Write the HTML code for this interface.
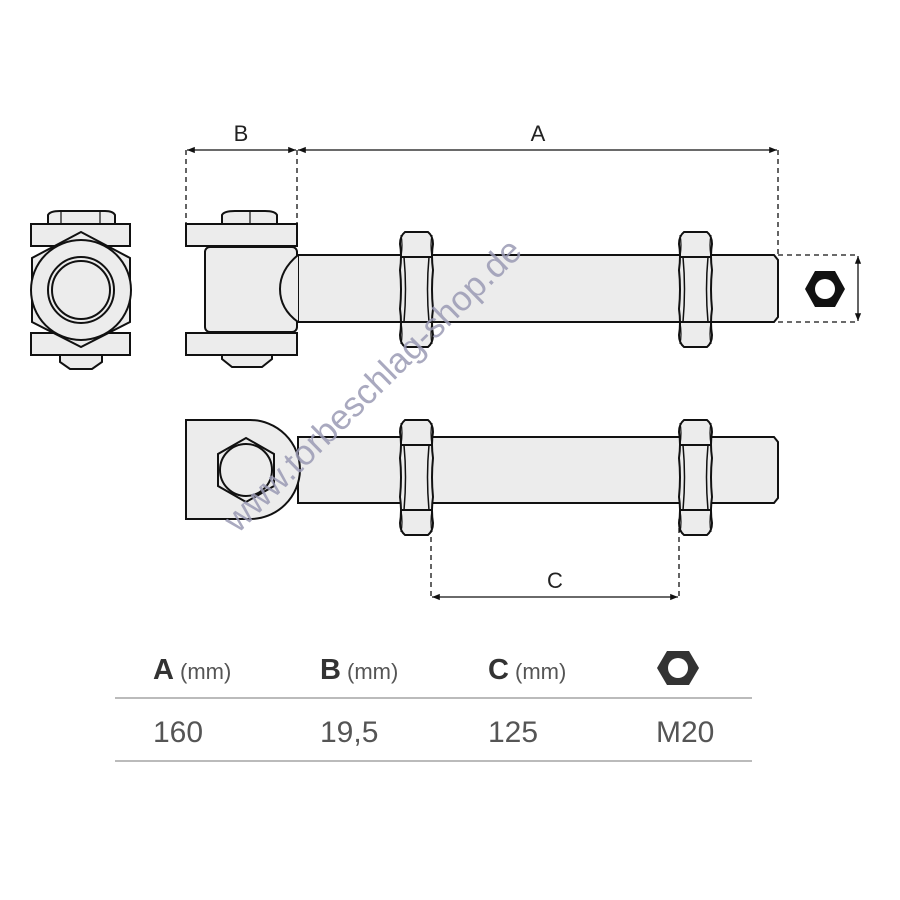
<!DOCTYPE html>
<html><head><meta charset="utf-8"><style>
body{margin:0;background:#fff;width:900px;height:900px;overflow:hidden;font-family:"Liberation Sans",sans-serif}
svg{position:absolute;left:0;top:0}
</style></head><body>
<svg width="900" height="900" viewBox="0 0 900 900" xmlns="http://www.w3.org/2000/svg">
<defs>
<g id="nut" stroke="#111" stroke-width="2" fill="#ececec">
  <path d="M5,0 H28 Q33,4 33,12 Q31,24 33,38 Q31,57 33,77 Q31,91 33,103 Q33,111 28,115 H5 Q0,111 0,103 Q2,91 0,77 Q2,57 0,38 Q2,24 0,12 Q0,4 5,0 Z"/>
  <path d="M1,25 H32 M1,90 H32" fill="none"/>
  <path d="M4,25 Q7,57 4,90 M29,25 Q26,57 29,90" fill="none" stroke-width="1.5"/>
  <path d="M1,25 Q3,12 1,3 M32,25 Q30,12 32,3 M1,90 Q3,103 1,112 M32,90 Q30,103 32,112" fill="none" stroke-width="1.2"/>
</g>
<marker id="ar" viewBox="0 0 10 10" refX="10" refY="5" markerWidth="6" markerHeight="6" orient="auto-start-reverse"><path d="M0,1 L10,5 L0,9 z" fill="#111"/></marker>
</defs>

<g stroke="#111" stroke-width="1.3" fill="none">
  <path d="M186,150 V224 M297,150 V247 M778,150 V255" stroke-dasharray="5,4"/>
  <line x1="187" y1="150" x2="296" y2="150" marker-start="url(#ar)" marker-end="url(#ar)"/>
  <line x1="298" y1="150" x2="777" y2="150" marker-start="url(#ar)" marker-end="url(#ar)"/>
  <path d="M778,255 H858 M778,322 H858 M431,519 V597 M679,519 V597" stroke-dasharray="5,4"/>
  <line x1="858" y1="256" x2="858" y2="321" marker-start="url(#ar)" marker-end="url(#ar)"/>
  <line x1="432" y1="597" x2="678" y2="597" marker-start="url(#ar)" marker-end="url(#ar)"/>
</g>
<g font-size="22" fill="#222" text-anchor="middle">
  <text x="241" y="141">B</text><text x="538" y="141">A</text><text x="555" y="588">C</text>
</g>

<g stroke="#111" stroke-width="2" fill="#ececec">
  <path d="M48,224 V215 Q50,211 60,211 H105 Q113,211 115,215 V224 Z"/>
  <path d="M61,211 V224 M100,211 V224" fill="none" stroke-width="1.2"/>
  <path d="M60,355 H102 V362 L92,369 H70 L60,362 Z"/>
  <rect x="31" y="224" width="99" height="22"/>
  <rect x="31" y="333" width="99" height="22"/>
  <path d="M81,232 L130,258 V322 L81,347 L32,322 V258 Z"/>
  <circle cx="81" cy="290" r="50"/>
  <circle cx="81" cy="290" r="33"/>
  <circle cx="81" cy="290" r="29"/>
  <path d="M222,224 V215 Q224,211 235,211 H265 Q275,211 277,215 V224 Z"/>
  <line x1="250" y1="211" x2="250" y2="224" stroke-width="1.2"/>
  <path d="M222,355 H272 V359 L262,367 H232 L222,359 Z"/>
  <rect x="186" y="224" width="111" height="22"/>
  <rect x="186" y="333" width="111" height="22"/>
  <rect x="205" y="247" width="92" height="85" rx="5"/>
  <path d="M298,255 H774 L778,260 V317 L774,322 H298 Z"/>
  <path d="M298,255 Q280,270 280,289 Q280,309 298,322" />
  <use href="#nut" x="400" y="232"/>
  <use href="#nut" x="679" y="232"/>
  <path d="M298,437 H774 L778,442 V498 L774,503 H298 Z"/>
  <path d="M186,420 H250 A50,50 0 0 1 300,470 A50,50 0 0 1 250,519 H186 Z"/>
  <path d="M246,438 L274,454 V486 L246,502 L218,486 V454 Z"/>
  <circle cx="246" cy="470" r="26"/>
  <use href="#nut" x="400" y="420"/>
  <use href="#nut" x="679" y="420"/>
</g>
<path d="M815,271 H835 L845,289 L835,307 H815 L805,289 Z" fill="#111"/>
<circle cx="825" cy="289" r="10" fill="#fff"/>

<text x="0" y="0" transform="translate(238,534) rotate(-44.5)" font-size="35" fill="#9a9ab4" fill-opacity="0.85">www.torbeschlag-shop.de</text>

<g fill="#333">
  <text x="153" y="679" font-size="29" font-weight="bold">A</text><text x="180" y="679" font-size="22" fill="#555">(mm)</text>
  <text x="320" y="679" font-size="29" font-weight="bold">B</text><text x="347" y="679" font-size="22" fill="#555">(mm)</text>
  <text x="488" y="679" font-size="29" font-weight="bold">C</text><text x="515" y="679" font-size="22" fill="#555">(mm)</text>
</g>
<path d="M667,651 H689 L699,668 L689,685 H667 L657,668 Z" fill="#333"/>
<circle cx="678" cy="668" r="10" fill="#fff"/>
<line x1="115" y1="698" x2="752" y2="698" stroke="#bbb" stroke-width="2"/>
<g fill="#555" font-size="30">
  <text x="153" y="742">160</text><text x="320" y="742">19,5</text><text x="488" y="742">125</text><text x="656" y="742">M20</text>
</g>
<line x1="115" y1="761" x2="752" y2="761" stroke="#bbb" stroke-width="2"/>
</svg>
</body></html>
